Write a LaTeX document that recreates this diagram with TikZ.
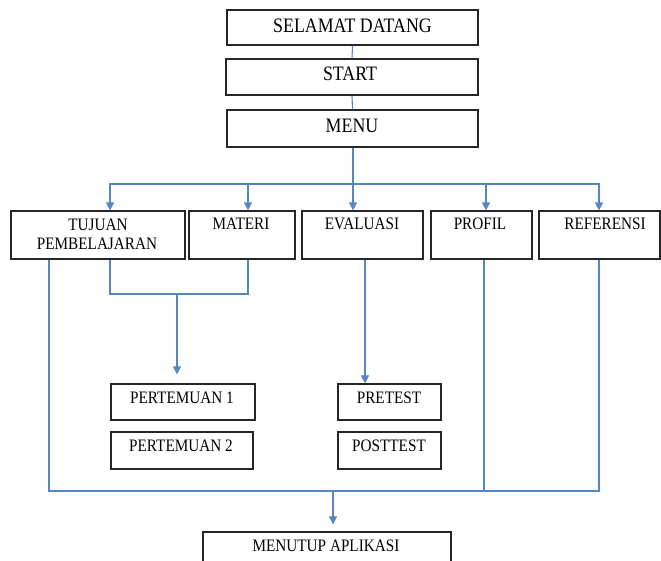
\documentclass[tikz,border=0pt]{standalone}
\usepackage{fontspec}
\setmainfont[FakeStretch=0.87]{Liberation Serif}
\usetikzlibrary{arrows.meta,calc}
\definecolor{conblue}{RGB}{84,134,194}
\tikzset{
  box/.style={draw=black!85, line width=1.2pt, inner sep=0pt, fill=none},
  txt/.style={inner sep=0pt, anchor=base, font=\fontsize{17.5}{20}\selectfont, text=black},
  bigtxt/.style={txt, font=\fontsize{20.5}{23}\selectfont},
  conn/.style={draw=conblue, line width=1.1pt},
  arr/.style={conn, -{Triangle[width=8pt,length=8pt]}}
}
\begin{document}
\begin{tikzpicture}[x=1pt,y=-1pt]
\useasboundingbox (0,0) rectangle (661,561);
% top boxes
\node[box, minimum width=251pt, minimum height=35pt] (sd) at (352.5,27.5) {};
\node[box, minimum width=252pt, minimum height=36pt] (st) at (352,77) {};
\node[box, minimum width=251pt, minimum height=37pt] (mn) at (352.5,128.5) {};
\node[bigtxt] (tsd) at (352.5,33) {SELAMAT DATANG};
\node[bigtxt] (tst) at (350,81) {START};
\node[bigtxt] (tmn) at (352,133) {MENU};
% row boxes
\node[box, minimum width=174pt, minimum height=48pt] (tuj) at (98,235) {};
\node[box, minimum width=106pt, minimum height=48pt] (mat) at (242,235) {};
\node[box, minimum width=121pt, minimum height=48pt] (eva) at (362.5,235) {};
\node[box, minimum width=101pt, minimum height=48pt] (pro) at (481.5,235) {};
\node[box, minimum width=121pt, minimum height=48pt] (ref) at (599.5,235) {};
\node[txt] (ttuj1) at (98,231) {TUJUAN};
\node[txt] (ttuj2) at (97,250) {PEMBELAJARAN};
\node[txt] (tmat) at (241,230) {MATERI};
\node[txt] (teva) at (362,230) {EVALUASI};
\node[txt] (tpro) at (480,230) {PROFIL};
\node[txt] (tref) at (605,230) {REFERENSI};
% lower boxes
\node[box, minimum width=144pt, minimum height=36pt] (p1) at (183,402) {};
\node[box, minimum width=142pt, minimum height=37pt] (p2) at (182,450.5) {};
\node[box, minimum width=103pt, minimum height=36pt] (pre) at (389.5,402) {};
\node[box, minimum width=103pt, minimum height=37pt] (post) at (389.5,450.5) {};
\node[txt] (tp1) at (182,403) {PERTEMUAN 1};
\node[txt] (tp2) at (181,451) {PERTEMUAN 2};
\node[txt] (tpre) at (389,403) {PRETEST};
\node[txt] (tpost) at (389,451) {POSTTEST};
% final box
\node[box, minimum width=248pt, minimum height=30pt] (mt) at (327,547) {};
\node[txt] (tmt) at (326,551) {MENUTUP APLIKASI};
% connectors
\coordinate (hub) at (353,184);
\coordinate (mrg) at (177,294);
\coordinate (bot) at (333,491);
\draw[conn] (sd.south) -- (st.north);
\draw[conn] (st.south) -- (mn.north);
\draw[conn] (mn.south -| hub) -- (hub);
\draw[arr] (hub) -| ([xshift=12pt]tuj.north);
\draw[arr] (hub) -| ([xshift=6pt]mat.north);
\draw[arr] (hub) -- (hub |- eva.north);
\draw[arr] (hub) -| ([xshift=4.5pt]pro.north);
\draw[arr] (hub) -| ([xshift=-0.5pt]ref.north);
\draw[conn] ([xshift=12pt]tuj.south) |- (mrg) -| ([xshift=6pt]mat.south);
\draw[arr, shorten >=9pt] (mrg) -- (mrg |- p1.north);
\draw[arr] ([xshift=2.5pt]eva.south) -- ([xshift=2.5pt]eva.south |- pre.north);
\draw[conn] ([xshift=-49pt]tuj.south) |- (bot) -| ([xshift=-0.5pt]ref.south);
\draw[conn] ([xshift=2.5pt]pro.south) -- ([xshift=2.5pt]pro.south |- bot);
\draw[arr, shorten >=7pt] (bot) -- (bot |- mt.north);
\end{tikzpicture}
\end{document}
